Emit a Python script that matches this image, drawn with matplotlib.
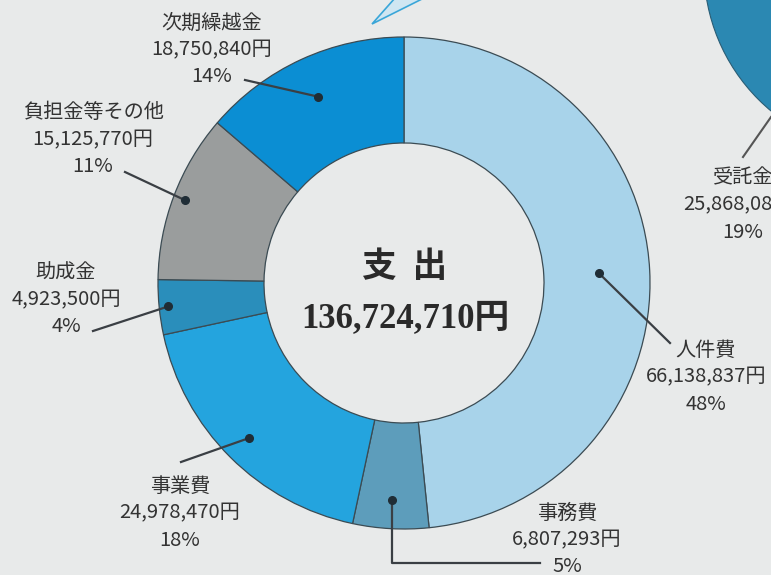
import matplotlib.pyplot as plt
import numpy as np

plt.rcParams['font.family'] = ['Noto Sans CJK JP', 'DejaVu Sans']

# expenditure data
labels = ["人件費", "事務費", "事業費", "助成金", "負担金等その他", "次期繰越金"]
amounts = [66138837, 6807293, 24978470, 4923500, 15125770, 18750840]
percents = [48, 5, 18, 4, 11, 14]
colors = ["#a8d3ea", "#5d9dbb", "#24a4de", "#2a8ebb", "#9a9d9d", "#0b8ed3"]
total = 136724710

# partial income label at right edge (cut off in the source)
income_label = "受託金"
income_amount = "25,868,080円"
income_pct = 19

W, H = 771, 575
BG = "#e8eaea"
TXT = "#333333"
FS = 14.5


def fy(y):
    # image row -> data y
    return H - y


fig = plt.figure(figsize=(7.71, 5.75), dpi=100, facecolor=BG)
ax = fig.add_axes([0, 0, 1, 1])
ax.set_facecolor(BG)

cx, cy = 404, fy(283)
R, ring = 246, 106

wedges, _ = ax.pie(amounts, colors=colors, startangle=90, counterclock=False,
                   radius=R, center=(cx, cy),
                   wedgeprops=dict(width=ring, edgecolor="#3b4b53", linewidth=0.9))

# partial pie of the neighbouring (income) chart
big = plt.Circle((890, fy(-32)), 186, color="#2b88b2", ec="#2a5d75", lw=0.8)
ax.add_patch(big)
ax.plot([771, 743], [fy(117), fy(157)], color="#555555", lw=1.5)
for i, line in enumerate([income_label, income_amount, f"{income_pct}%"]):
    ax.text(743, fy(178 + i * 27), line, ha="center", va="center", fontsize=FS, color=TXT)

# little triangle at the top (pointer of the income chart)
ax.fill([372, 395, 424], [fy(24), fy(-2), fy(-2)], color="#cfe6f2", ec="#3aa6d8", lw=1.2)

# leader dots and labels
dot_r = [195, 217, 219, 237, 234, 205]
text_pos = [(706, 350), (567, 513), (180, 486), (66, 273), (93, 113), (212, 23)]
line_end = [(670, 343), None, (181, 462), (93, 331), (125, 172), (245, 80)]

for i, w in enumerate(wedges):
    mid = np.deg2rad((w.theta1 + w.theta2) / 2)
    dx = cx + dot_r[i] * np.cos(mid)
    dy = cy + dot_r[i] * np.sin(mid)
    ax.plot(dx, dy, "o", color="#1f2d36", ms=5.5, zorder=5)
    if line_end[i] is None:
        # elbow leader for 事務費
        ax.plot([dx, dx, 540], [dy, fy(563), fy(563)], color="#3a3f44", lw=1.6, zorder=4)
    else:
        ex, ey = line_end[i]
        ax.plot([dx, ex], [dy, fy(ey)], color="#3a3f44", lw=1.6, zorder=4)
    tx, ty = text_pos[i]
    block = [labels[i], f"{amounts[i]:,}円", f"{percents[i]}%"]
    for j, line in enumerate(block):
        ax.text(tx, fy(ty + j * 27), line, ha="center", va="center",
                fontsize=FS, color=TXT)

# centre text
ax.text(cx + 1, fy(267), "支  出", ha="center", va="center", fontsize=25,
        fontweight="bold", color="#2a2a2a")
ax.text(cx + 1, fy(320), f"{total:,}円", ha="center", va="center", fontsize=25,
        fontweight="bold", color="#2a2a2a",
        family=["Liberation Serif", "Noto Sans CJK JP"])

ax.set_xlim(0, W)
ax.set_ylim(0, H)
ax.set_aspect("equal")
ax.axis("off")

fig.savefig("out.png", dpi=100, facecolor=BG)
